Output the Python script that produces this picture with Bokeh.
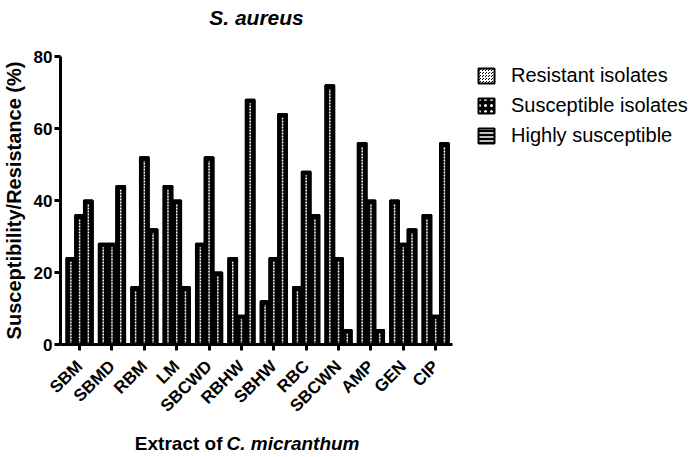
import numpy as np
from bokeh.plotting import figure
from bokeh.models import Range1d, FixedTicker, Legend, LegendItem, Label, ColumnDataSource
from bokeh.embed import file_html
from bokeh.resources import INLINE

categories = ["SBM", "SBMD", "RBM", "LM", "SBCWD", "RBHW", "SBHW", "RBC", "SBCWN", "AMP", "GEN", "CIP"]
resistant = [24, 28, 16, 44, 28, 24, 12, 16, 72, 56, 40, 36]
susceptible = [36, 28, 52, 40, 52, 8, 24, 48, 24, 40, 28, 8]
highly = [40, 44, 32, 16, 20, 68, 64, 36, 4, 4, 32, 56]
series_names = ["Resistant isolates", "Susceptible isolates", "Highly susceptible"]
y_ticks = [0, 20, 40, 60, 80]

FONT = "Liberation Sans"

# The frame covers the whole canvas; the axes are pinned with fixed_location
# and limited with bounds, so texts around them are not clipped.
X0, X1 = -0.59, 11.52
W, H = 694, 457
AX_LEFT, AX_TOP, AX_BOTTOM = 60, 56, 344
px_per_x = 392 / (X1 - X0)
px_per_y = (AX_BOTTOM - AX_TOP) / 80
x_start = X0 - AX_LEFT / px_per_x
x_end = X0 + (W - AX_LEFT) / px_per_x
y_end = 80 + AX_TOP / px_per_y
y_start = -(H - AX_BOTTOM) / px_per_y

p = figure(width=W, height=H, output_backend="svg", toolbar_location=None,
           x_range=Range1d(x_start, x_end), y_range=Range1d(y_start, y_end),
           min_border_left=0, min_border_right=0, min_border_top=0, min_border_bottom=0)
p.outline_line_color = None
p.xgrid.visible = False
p.ygrid.visible = False

xs = np.arange(len(categories))
bw = 0.27
patterns = [("criss_cross", 3, 1.0), ("dot", 6, 2.5), ("horizontal_line", 4, 1.5)]
items = []
for k, (vals, name, (pat, sc, wt)) in enumerate(zip([resistant, susceptible, highly], series_names, patterns)):
    off = (k - 1) * bw
    src = ColumnDataSource(dict(x=xs + off, top=vals, inner=[v - 1.0 for v in vals]))
    # patterned bars (used for the legend key), covered by the dark bars below
    r_leg = p.vbar(x="x", top="top", bottom=0, width=bw, source=src,
                   fill_color="black", line_color="black", line_width=2,
                   hatch_pattern=pat, hatch_color="white", hatch_scale=sc, hatch_weight=wt)
    p.vbar(x="x", top="top", bottom=0, width=bw, source=src,
           fill_color="black", line_color="black", line_width=2)
    p.segment(x0="x", y0=0, x1="x", y1="inner", source=src,
              line_color="white", line_width=1.5, line_dash="2 1")
    items.append(LegendItem(label=name, renderers=[r_leg]))

legend = Legend(items=items, location=(476, 310))
legend.glyph_width = 20
legend.glyph_height = 19
legend.label_standoff = 15
legend.spacing = 7
legend.padding = 0
legend.margin = 0
legend.border_line_color = None
legend.background_fill_alpha = 0
legend.label_text_font = FONT
legend.label_text_font_size = "20px"
legend.label_text_color = "black"
p.add_layout(legend)

# axes
p.xaxis.fixed_location = 0
p.yaxis.fixed_location = X0
p.xaxis.bounds = (X0, X1)
p.yaxis.bounds = (0, 80)
p.yaxis.ticker = FixedTicker(ticks=y_ticks)
p.xaxis.ticker = FixedTicker(ticks=list(range(len(categories))))
p.xaxis.major_label_overrides = {i: c for i, c in enumerate(categories)}
p.xaxis.major_label_orientation = np.pi / 4
for ax in (p.xaxis, p.yaxis):
    ax.axis_line_width = 3
    ax.major_tick_line_width = 3
    ax.major_tick_out = 6
    ax.major_tick_in = 0
    ax.minor_tick_line_color = None
    ax.major_label_text_font = FONT
    ax.major_label_text_font_style = "bold"
    ax.major_label_text_color = "black"
    ax.axis_line_color = "black"
    ax.major_tick_line_color = "black"
p.yaxis.major_label_text_font_size = "17px"
p.xaxis.major_label_text_font_size = "17px"
p.yaxis.major_label_standoff = 2
p.xaxis.major_label_standoff = 13
p.yaxis.axis_label = "Susceptibility/Resistance (%)"
p.yaxis.axis_label_text_font = FONT
p.yaxis.axis_label_text_font_style = "bold"
p.yaxis.axis_label_text_font_size = "20px"
p.yaxis.axis_label_text_color = "black"
p.yaxis.axis_label_standoff = 6


def lab(x, y, text, style, size, align):
    p.add_layout(Label(x=x, y=y, x_units="screen", y_units="screen", text=text,
                       text_align=align, text_baseline="alphabetic", text_font=FONT,
                       text_font_style=style, text_font_size=size, text_color="black"))


lab(256, H - 17, "S. aureus", "bold italic", "21px", "center")
lab(222, 14, "Extract of", "bold", "19px", "right")
lab(226, 14, "C. micranthum", "bold italic", "19px", "left")

open("out.html", "w").write(file_html(p, INLINE))
